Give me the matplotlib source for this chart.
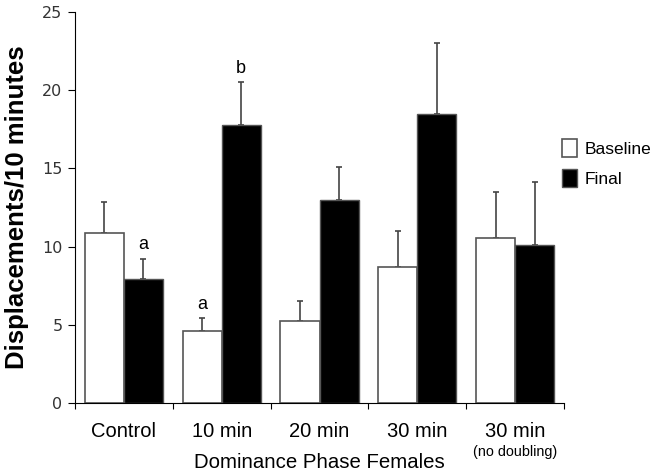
import matplotlib
matplotlib.use("Agg")
import matplotlib.pyplot as plt
import numpy as np

# data
groups = ["Control", "10 min", "20 min", "30 min", "30 min"]
baseline = [10.87, 4.62, 5.22, 8.72, 10.57]
baseline_err = [1.98, 0.79, 1.32, 2.28, 2.90]
final = [7.93, 17.77, 12.96, 18.50, 10.10]
final_err = [1.30, 2.73, 2.11, 4.50, 4.03]
yticks = [0, 5, 10, 15, 20, 25]

fig = plt.figure(figsize=(6.51, 4.74), dpi=100)
ax = fig.add_axes([0.1152, 0.1498, 0.7512, 0.8249])

x = np.arange(len(groups))
w = 0.4
ax.bar(x - w / 2, baseline, w, color="white", edgecolor="#555555", linewidth=1.2,
       label="Baseline", zorder=2)
ax.bar(x + w / 2, final, w, color="black", edgecolor="#555555", linewidth=1.0,
       label="Final", zorder=2)
ax.errorbar(x - w / 2, baseline, yerr=[np.zeros(5), baseline_err], fmt="none",
            ecolor="#444444", elinewidth=1.2, capsize=2.5, capthick=1.2, zorder=1)
ax.errorbar(x + w / 2, final, yerr=[np.zeros(5), final_err], fmt="none",
            ecolor="#444444", elinewidth=1.2, capsize=2.5, capthick=1.2, zorder=1)

# significance letters
sig = [(0 + w / 2, final[0] + final_err[0], "a"),
       (1 - w / 2, baseline[1] + baseline_err[1], "a"),
       (1 + w / 2, final[1] + final_err[1], "b")]
for sx, sy, s in sig:
    ax.annotate(s, (sx, sy), xytext=(0, 4), textcoords="offset points",
                ha="center", va="bottom", fontsize=13, family="Liberation Sans")

ax.set_xlim(-0.5, len(groups) - 0.5)
ax.set_ylim(0, 25)
ax.set_yticks(yticks)
ax.set_yticklabels([str(t) for t in yticks], fontsize=11.5, color="#333333",
                   family="DejaVu Sans")
ax.set_xticks(np.arange(len(groups) + 1) - 0.5)
ax.set_xticklabels([])
ax.tick_params(axis="x", which="major", length=4, direction="out")
ax.tick_params(axis="y", length=5, direction="out", pad=4)

# category labels under the axis
for gx, g in zip(x, groups):
    ax.annotate(g, (gx, 0), xycoords=("data", "axes fraction"), xytext=(0, -20.2),
                textcoords="offset points", ha="center", va="center",
                fontsize=14.5, family="Liberation Sans")
ax.annotate("(no doubling)", (4, 0), xycoords=("data", "axes fraction"),
            xytext=(0, -35.3), textcoords="offset points", ha="center",
            va="center", fontsize=10.4, family="Liberation Sans")
ax.annotate("Dominance Phase Females", (2, 0), xycoords=("data", "axes fraction"),
            xytext=(0, -42.5), textcoords="offset points", ha="center",
            va="center", fontsize=14.7, family="Liberation Sans")

for s in ["top", "right"]:
    ax.spines[s].set_visible(False)

ax.set_ylabel("Displacements/10 minutes", fontsize=18.5, fontweight="bold",
              family="Liberation Sans")
ax.yaxis.set_label_coords(-0.094, 0.5)

fig.legend(loc="upper left", bbox_to_anchor=(0.8633, 0.707), frameon=False,
           prop={"family": "Liberation Sans", "size": 12.5},
           handlelength=0.85, handleheight=1.2, handletextpad=0.45,
           labelspacing=0.7, borderpad=0, borderaxespad=0)

fig.savefig("out.png", dpi=100)
